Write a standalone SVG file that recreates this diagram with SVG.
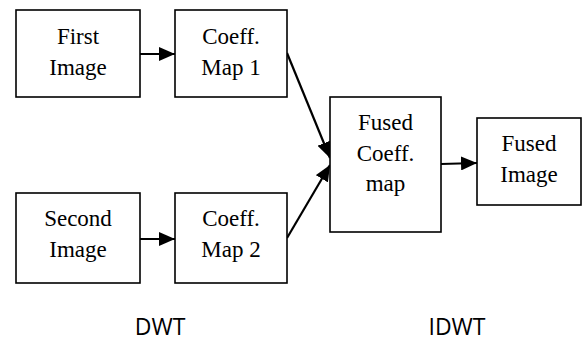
<svg xmlns="http://www.w3.org/2000/svg" width="582" height="342" viewBox="0 0 582 342">
<defs>
<style>
.box{fill:#fff;stroke:#000;stroke-width:1.6}
.t{font-family:"Liberation Serif","Times New Roman",serif;font-size:23px;fill:#000;text-anchor:middle}
.s{font-family:"Open Sans","Liberation Sans",sans-serif;font-size:23px;fill:#000;text-anchor:middle}
.c{stroke:#000;stroke-width:2.2;fill:none;marker-end:url(#ah)}
</style>
<marker id="ah" markerUnits="userSpaceOnUse" markerWidth="17" markerHeight="14" refX="16" refY="7" orient="auto">
<path d="M0,0 L16,7 L0,14 Z" fill="#000"/>
</marker>
</defs>
<rect width="582" height="342" fill="#fff"/>
<g id="connectors">
<line class="c" x1="140" y1="54" x2="175" y2="54"/>
<line class="c" x1="140" y1="239" x2="175" y2="239"/>
<line class="c" x1="287" y1="53" x2="330" y2="158"/>
<line class="c" x1="287" y1="238" x2="330" y2="165"/>
<line class="c" x1="441" y1="164" x2="477" y2="163"/>
</g>
<g id="first-image">
<rect class="box" x="16" y="10" width="124" height="87"/>
<text class="t" x="78" y="44">First</text>
<text class="t" x="78" y="75">Image</text>
</g>
<g id="coeff-map-1">
<rect class="box" x="175" y="10" width="112" height="87"/>
<text class="t" x="231" y="44">Coeff.</text>
<text class="t" x="231" y="75">Map 1</text>
</g>
<g id="second-image">
<rect class="box" x="16" y="193" width="124" height="90"/>
<text class="t" x="78" y="226">Second</text>
<text class="t" x="78" y="257">Image</text>
</g>
<g id="coeff-map-2">
<rect class="box" x="175" y="193" width="112" height="90"/>
<text class="t" x="231" y="226">Coeff.</text>
<text class="t" x="231" y="257">Map 2</text>
</g>
<g id="fused-coeff-map">
<rect class="box" x="330" y="97" width="111" height="135"/>
<text class="t" x="385.5" y="130">Fused</text>
<text class="t" x="385.5" y="161">Coeff.</text>
<text class="t" x="385.5" y="191">map</text>
</g>
<g id="fused-image">
<rect class="box" x="477" y="118" width="104" height="87"/>
<text class="t" x="529" y="151">Fused</text>
<text class="t" x="529" y="182">Image</text>
</g>
<text class="s" x="160" y="335">DWT</text>
<text class="s" x="457" y="335">IDWT</text>
</svg>
